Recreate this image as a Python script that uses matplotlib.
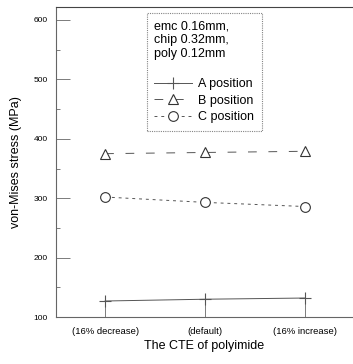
import numpy as np
import matplotlib.pyplot as plt
from matplotlib.ticker import MultipleLocator

plt.rcParams['font.family'] = ['Liberation Sans', 'DejaVu Sans']

# data
cases = ["(16% decrease)", "(default)", "(16% increase)"]
a_pos = [127, 130, 132]
b_pos = [375, 377, 379]
c_pos = [302, 293, 286]

x = np.arange(1, len(cases) + 1)

fig = plt.figure(figsize=(3.53, 3.64), dpi=100)
ax = fig.add_axes([0.159, 0.129, 0.838, 0.852])

ax.plot(x, a_pos, color="#555555", lw=0.7, marker="+", ms=8, mew=0.8,
        label="A position")
ax.plot(x, b_pos, color="#555555", lw=0.7, dashes=(9, 12), marker="^", ms=6.5,
        mfc="white", mec="#333333", mew=0.8, label="B position")
ax.plot(x, c_pos, color="#555555", lw=0.7, dashes=(3, 4), marker="o", ms=7,
        mfc="white", mec="#333333", mew=0.8, label="C position")

ax.set_xlim(0.51, 3.47)
ax.set_ylim(100, 622)
ax.set_xticks(x)
ax.set_xticklabels(cases, fontsize=6.8)
ax.yaxis.set_major_locator(MultipleLocator(100))
ax.yaxis.set_minor_locator(MultipleLocator(50))
ax.set_yticks([100, 200, 300, 400, 500, 600])
ax.tick_params(axis="y", direction="in", length=10, width=0.6, labelsize=6,
               color="#666666", pad=6)
ax.tick_params(axis="y", which="minor", direction="in", length=3, width=0.6,
               color="#666666")
ax.tick_params(axis="x", direction="in", length=15, width=0.6, color="#666666",
               pad=7)

for side in ["left", "bottom"]:
    ax.spines[side].set_linestyle((0, (1, 1)))
    ax.spines[side].set_color("#666666")
    ax.spines[side].set_linewidth(0.8)
ax.spines["top"].set_color("#444444")
ax.spines["top"].set_linewidth(0.8)
ax.spines["right"].set_visible(False)

ax.set_xlabel("The CTE of polyimide", fontsize=9, labelpad=3)
ax.set_ylabel("von-Mises stress (MPa)", fontsize=9, labelpad=8)

leg = ax.legend(loc="upper left", bbox_to_anchor=(0.307, 0.98), fontsize=9,
                title="emc 0.16mm,\nchip 0.32mm,\npoly 0.12mm\n",
                title_fontsize=9, alignment="left", frameon=True,
                fancybox=False, edgecolor="#666666", handlelength=3,
                handletextpad=0.5, labelspacing=0.35, borderpad=0.6,
                borderaxespad=0)
leg.get_frame().set_linestyle((0, (1, 1)))
leg.get_frame().set_linewidth(0.8)

fig.savefig("out.png", dpi=100)
